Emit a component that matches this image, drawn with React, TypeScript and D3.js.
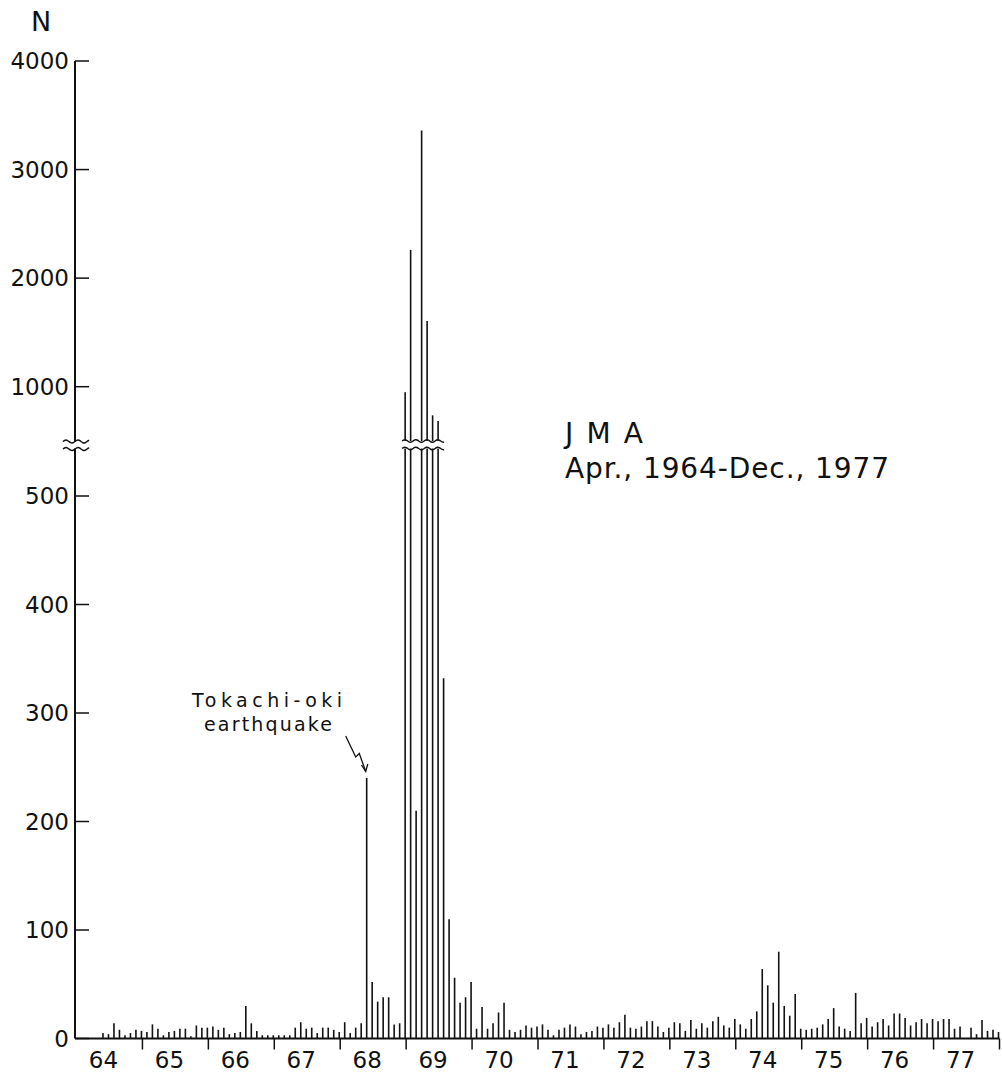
import React from "react";
import * as d3 from "d3";

// Monthly number of earthquakes (JMA), Apr 1964 – Dec 1977
const counts1964 = [0, 5, 4, 14, 8, 3, 5, 8, 7]; // Apr..Dec
const counts1965 = [6, 13, 9, 3, 6, 7, 9, 9, 2, 12, 10, 10];
const counts1966 = [11, 8, 10, 4, 5, 6, 30, 14, 7, 3, 3, 3];
const counts1967 = [3, 3, 3, 10, 15, 9, 10, 5, 10, 10, 8, 6];
const counts1968 = [15, 5, 10, 14, 240, 52, 34, 38, 38, 13, 14, 950];
const counts1969 = [2260, 210, 3360, 1605, 736, 685, 332, 110, 56, 33, 38, 52];
const counts1970 = [9, 29, 9, 14, 24, 33, 8, 6, 8, 12, 10, 11];
const counts1971 = [13, 8, 3, 8, 10, 13, 11, 4, 6, 7, 11, 10];
const counts1972 = [13, 10, 15, 22, 10, 9, 11, 16, 16, 11, 6, 10];
const counts1973 = [15, 14, 7, 17, 9, 14, 10, 16, 20, 12, 10, 18];
const counts1974 = [13, 9, 18, 25, 64, 49, 33, 80, 30, 21, 41, 9];
const counts1975 = [8, 9, 10, 13, 18, 28, 11, 9, 7, 42, 14, 19];
const counts1976 = [11, 15, 18, 12, 23, 23, 19, 12, 15, 18, 14, 18];
const counts1977 = [16, 18, 18, 9, 11, 0, 10, 4, 17, 7, 8, 6];

const firstMonthIndex = 3; // April 1964 (months counted from Jan 1964)
const monthlyCounts = [
  ...counts1964, ...counts1965, ...counts1966, ...counts1967, ...counts1968,
  ...counts1969, ...counts1970, ...counts1971, ...counts1972, ...counts1973,
  ...counts1974, ...counts1975, ...counts1976, ...counts1977,
];

const yearLabels = ["64", "65", "66", "67", "68", "69", "70", "71", "72", "73", "74", "75", "76", "77"];
const lowerTicks = [0, 100, 200, 300, 400, 500];
const upperTicks = [1000, 2000, 3000, 4000];

const INK = "#111";
const FONT = "'DejaVu Sans', sans-serif";

function wavy(x0: number, x1: number, y: number, period = 11, amp = 1.6) {
  const pts: [number, number][] = [];
  const n = Math.max(2, Math.round(((x1 - x0) / period) * 8));
  for (let i = 0; i <= n; i++) {
    const x = x0 + ((x1 - x0) * i) / n;
    pts.push([x, y - amp * Math.sin(((x - x0) / period) * 2 * Math.PI)]);
  }
  return d3.line().curve(d3.curveBasis)(pts) || "";
}

export default function App() {
  const width = 1002;
  const height = 1073;

  const nMonths = 14 * 12;
  const x = d3.scaleLinear().domain([0, nMonths]).range([76.5, 999.5]);
  const yLow = d3.scaleLinear().domain([0, 500]).range([1038.5, 496]);
  const yUp = d3.scaleLinear().domain([1000, 4000]).range([386.7, 61]);

  const axisX = 75;
  const baseY = yLow(0);
  const breakUpper = 441; // bottom of upper panel
  const breakLower = 448.5; // top of lower panel
  const lowMax = yLow.invert(breakLower);

  const bars = monthlyCounts.map((v, i) => {
    const idx = firstMonthIndex + i;
    return { v, bx: x(idx + 1) - 1 };
  });
  const broken = bars.filter((b) => b.v > lowMax);
  const bx0 = d3.min(broken, (b) => b.bx)! - 3;
  const bx1 = d3.max(broken, (b) => b.bx)! + 6;

  return (
    <svg
      width={width}
      height={height}
      style={{ position: "absolute", left: 0, top: 0, background: "#fff" }}
      fontFamily={FONT}
    >
      <rect width={width} height={height} fill="#fff" />
      {/* N label */}
      <text x={41} y={31} fontSize={27} textAnchor="middle" fill={INK}>N</text>

      {/* Y axis (with break) */}
      <line x1={axisX} x2={axisX} y1={yUp(4000)} y2={breakUpper} stroke={INK} strokeWidth={2} />
      <line x1={axisX} x2={axisX} y1={breakLower} y2={baseY} stroke={INK} strokeWidth={2} />
      <path d={wavy(63, 89, 441.5, 12, 1.6)} fill="none" stroke={INK} strokeWidth={1.5} />
      <path d={wavy(63, 89, 449, 12, 1.6)} fill="none" stroke={INK} strokeWidth={1.5} />

      {upperTicks.map((t) => (
        <g key={"u" + t}>
          <line x1={axisX} x2={axisX + 14} y1={yUp(t)} y2={yUp(t)} stroke={INK} strokeWidth={1.5} />
          <text x={69} y={yUp(t)} dy="0.36em" textAnchor="end" fontSize={23} fill={INK}>{t}</text>
        </g>
      ))}
      {lowerTicks.map((t) => (
        <g key={"l" + t}>
          <line x1={axisX} x2={axisX + 14} y1={yLow(t)} y2={yLow(t)} stroke={INK} strokeWidth={1.5} />
          <text x={69} y={yLow(t)} dy="0.36em" textAnchor="end" fontSize={23} fill={INK}>{t}</text>
        </g>
      ))}

      {/* X axis */}
      <line x1={axisX} x2={x(nMonths)} y1={baseY} y2={baseY} stroke={INK} strokeWidth={2} />
      {d3.range(1, 15).map((k) => (
        <line key={"xt" + k} x1={x(k * 12)} x2={x(k * 12)} y1={baseY} y2={baseY + 11} stroke={INK} strokeWidth={1.5} />
      ))}
      {yearLabels.map((lab, k) => (
        <text key={lab} x={x(k * 12 + 6) - 6} y={1068} textAnchor="middle" fontSize={23} fill={INK}>{lab}</text>
      ))}

      {/* Bars */}
      {bars.map((b, i) =>
        b.v <= 0 ? null : b.v <= lowMax ? (
          <line key={i} x1={b.bx} x2={b.bx} y1={baseY} y2={yLow(b.v)} stroke={INK} strokeWidth={1.6} />
        ) : (
          <g key={i}>
            <line x1={b.bx} x2={b.bx} y1={baseY} y2={breakLower} stroke={INK} strokeWidth={1.6} />
            <line x1={b.bx} x2={b.bx} y1={breakUpper} y2={yUp(b.v)} stroke={INK} strokeWidth={1.6} />
          </g>
        )
      )}
      <path d={wavy(bx0, bx1, breakUpper, 11, 1.4)} fill="none" stroke={INK} strokeWidth={1.4} />
      <path d={wavy(bx0, bx1, breakLower, 11, 1.4)} fill="none" stroke={INK} strokeWidth={1.4} />

      {/* Annotation */}
      <text x={192} y={707} fontSize={19} textLength={150} lengthAdjust="spacing" fill={INK}>Tokachi-oki</text>
      <text x={204} y={731} fontSize={19} textLength={128} lengthAdjust="spacing" fill={INK}>earthquake</text>
      <path
        d={`M345.7,736 L355.7,757 L359.3,753.5 L365.7,771.5`}
        fill="none"
        stroke={INK}
        strokeWidth={1.3}
      />
      <path d={`M361.5,765 L365.7,771.5 L367.8,764`} fill="none" stroke={INK} strokeWidth={1.3} />

      {/* Title */}
      <text x={565} y={443} fontSize={28} textLength={78} lengthAdjust="spacing" fill={INK}>J M A</text>
      <text x={565} y={478} fontSize={28} textLength={324} lengthAdjust="spacing" fill={INK}>Apr., 1964-Dec., 1977</text>
    </svg>
  );
}
